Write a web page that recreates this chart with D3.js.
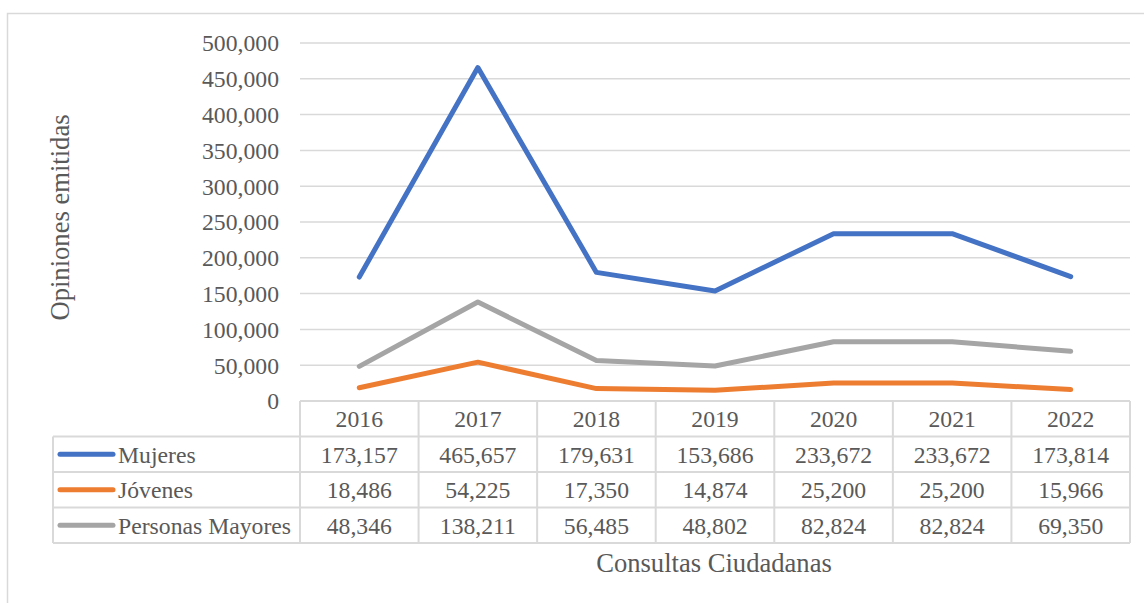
<!DOCTYPE html>
<html>
<head>
<meta charset="utf-8">
<script src="https://cdn.jsdelivr.net/npm/d3@7"></script>
<style>
  body { margin: 0; background: #fff; }
</style>
</head>
<body>
<svg id="chart" width="1144" height="603"></svg>
<script>
// data
const years = ['2016', '2017', '2018', '2019', '2020', '2021', '2022'];
const mujeres = [173157, 465657, 179631, 153686, 233672, 233672, 173814];
const jovenes = [18486, 54225, 17350, 14874, 25200, 25200, 15966];
const mayores = [48346, 138211, 56485, 48802, 82824, 82824, 69350];
const seriesNames = ['Mujeres', 'Jóvenes', 'Personas Mayores'];
const yTicks = [0, 50000, 100000, 150000, 200000, 250000, 300000, 350000, 400000, 450000, 500000];

const series = [
    { name: seriesNames[0], values: mujeres, color: '#4472C4' },
    { name: seriesNames[1], values: jovenes, color: '#ED7D31' },
    { name: seriesNames[2], values: mayores, color: '#A5A5A5' }
];

const serif = 'Liberation Serif';
const svg = d3.select('#chart');
const gridColor = '#d9d9d9';
const textColor = '#595959';
const fontSize = 23.7;
const titleSize = 26.6;

function label(sel, size) {
    return sel.attr('font-family', serif)
        .attr('font-size', size || fontSize)
        .attr('fill', textColor);
}

// outer chart border
svg.append('rect')
    .attr('x', 7.5).attr('y', 13.5)
    .attr('width', 1150).attr('height', 600)
    .attr('fill', 'none')
    .attr('stroke', gridColor)
    .attr('stroke-width', 1.5);

const x = d3.scaleBand().domain(years).range([300, 1130]);
const y = d3.scaleLinear().domain([0, 500000]).range([401, 43]);
const fmt = d3.format(',');

// gridlines
svg.append('g')
    .selectAll('line')
    .data(yTicks.filter(d => d > 0))
    .join('line')
    .attr('x1', 300).attr('x2', 1130)
    .attr('y1', d => y(d)).attr('y2', d => y(d))
    .attr('stroke', gridColor)
    .attr('stroke-width', 1.5);

// y axis labels
const yAxis = d3.axisLeft(y).tickValues(yTicks).tickFormat(fmt).tickSize(0).tickPadding(0);
const gy = svg.append('g').attr('transform', 'translate(279,0)').call(yAxis);
gy.attr('font-family', null).attr('font-size', null);
gy.select('.domain').remove();
gy.selectAll('text')
    .call(label)
    .attr('dy', '0.33em');

// y axis title
svg.append('text')
    .attr('transform', 'translate(69,217.5) rotate(-90)')
    .attr('text-anchor', 'middle')
    .call(label, titleSize)
    .text('Opiniones emitidas');

// lines
const line = d3.line()
    .x((d, i) => x(years[i]) + x.bandwidth() / 2)
    .y(d => y(d));

svg.append('g')
    .selectAll('path')
    .data(series)
    .join('path')
    .attr('d', d => line(d.values))
    .attr('fill', 'none')
    .attr('stroke', d => d.color)
    .attr('stroke-width', 5)
    .attr('stroke-linejoin', 'round')
    .attr('stroke-linecap', 'round');

// data table
const headerTop = 401, rowH = 35.5, tableLeft = 53;
const rowY = i => headerTop + rowH * (i + 1);
const tbl = svg.append('g');

// horizontal lines
tbl.selectAll('.hline')
    .data(d3.range(series.length + 2))
    .join('line')
    .attr('x1', (d, i) => i === 0 ? 300 : tableLeft)
    .attr('x2', 1130)
    .attr('y1', (d, i) => headerTop + rowH * i)
    .attr('y2', (d, i) => headerTop + rowH * i)
    .attr('stroke', gridColor)
    .attr('stroke-width', 2);

// vertical lines
tbl.selectAll('.vline')
    .data(years.concat(['end']))
    .join('line')
    .attr('x1', d => d === 'end' ? 1130 : x(d))
    .attr('x2', d => d === 'end' ? 1130 : x(d))
    .attr('y1', headerTop)
    .attr('y2', rowY(series.length - 1) + rowH)
    .attr('stroke', gridColor)
    .attr('stroke-width', 2);

tbl.append('line')
    .attr('x1', tableLeft).attr('x2', tableLeft)
    .attr('y1', rowY(0)).attr('y2', rowY(series.length - 1) + rowH)
    .attr('stroke', gridColor)
    .attr('stroke-width', 2);

// header years
tbl.selectAll('.year')
    .data(years)
    .join('text')
    .attr('x', d => x(d) + x.bandwidth() / 2)
    .attr('y', headerTop + rowH / 2)
    .attr('dy', '0.35em')
    .attr('text-anchor', 'middle')
    .call(label)
    .text(d => d);

// rows
series.forEach((s, si) => {
    const cy = rowY(si) + rowH / 2;
    tbl.append('line')
        .attr('x1', 60).attr('x2', 113)
        .attr('y1', cy).attr('y2', cy)
        .attr('stroke', s.color)
        .attr('stroke-width', 5)
        .attr('stroke-linecap', 'round');
    tbl.append('text')
        .attr('x', 118).attr('y', cy)
        .attr('dy', '0.35em')
        .call(label)
        .text(s.name);
    tbl.selectAll('.v' + si)
        .data(s.values)
        .join('text')
        .attr('x', (d, i) => x(years[i]) + x.bandwidth() / 2)
        .attr('y', cy)
        .attr('dy', '0.35em')
        .attr('text-anchor', 'middle')
        .call(label)
        .text(d => fmt(d));
});

// x axis title
svg.append('text')
    .attr('x', 714).attr('y', 572)
    .attr('text-anchor', 'middle')
    .call(label, titleSize)
    .text('Consultas Ciudadanas');
</script>
</body>
</html>
